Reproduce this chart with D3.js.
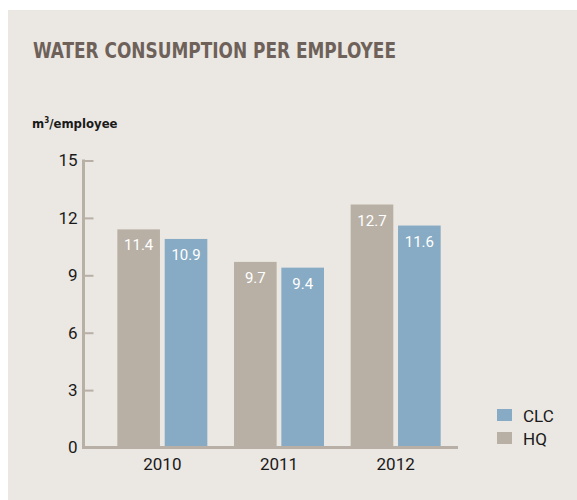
<!DOCTYPE html>
<html>
<head>
<meta charset="utf-8">
<script src="https://cdn.jsdelivr.net/npm/d3@7"></script>
<style>
  body { margin: 0; background: #fff; }
  svg text { font-family: Roboto, "Open Sans", sans-serif; }
</style>
</head>
<body>
<div id="chart"></div>
<script>
// chart data
const years = ["2010", "2011", "2012"];
const series = ["HQ", "CLC"];
const hqValues = [11.4, 9.7, 12.7];
const clcValues = [10.9, 9.4, 11.6];
const yTicks = [0, 3, 6, 9, 12, 15];
const legendOrder = ["CLC", "HQ"];

const width = 577;
const height = 500;

const color = d3.scaleOrdinal()
    .domain(series)
    .range(["#b8b0a5", "#87abc4"]);

const svg = d3.select("#chart")
    .append("svg")
    .attr("width", width)
    .attr("height", height);

// panel background
svg.append("rect")
    .attr("x", 8)
    .attr("y", 10)
    .attr("width", width - 8)
    .attr("height", height - 10)
    .attr("fill", "#ebe7e2");

// title
svg.append("text")
    .attr("x", 33)
    .attr("y", 58)
    .attr("fill", "#6e615a")
    .style("font-family", "'Liberation Sans Narrow', 'DejaVu Sans Condensed', sans-serif")
    .style("font-size", "21px")
    .style("font-weight", "bold")
    .attr("textLength", 363)
    .attr("lengthAdjust", "spacingAndGlyphs")
    .text("WATER CONSUMPTION PER EMPLOYEE");

// unit label
const unit = svg.append("text")
    .attr("x", 32)
    .attr("y", 128)
    .attr("fill", "#1a1a1a")
    .style("font-family", "'Liberation Sans Narrow', 'DejaVu Sans Condensed', sans-serif")
    .style("font-size", "13px")
    .style("font-weight", "bold");
unit.append("tspan").text("m");
unit.append("tspan").attr("dy", -5).style("font-size", "8px").text("3");
unit.append("tspan").attr("dy", 5).text("/employee");

// scales
const y = d3.scaleLinear()
    .domain([0, 15])
    .range([447.5, 160.5]);

const x0 = d3.scaleBand()
    .domain(years)
    .range([104, 454])
    .padding(0);

const groupWidth = 90;
const x1 = d3.scaleBand()
    .domain(series)
    .range([0, groupWidth])
    .paddingInner(0.1);

// y axis
const yAxis = svg.append("g")
    .attr("transform", "translate(83.5,0)")
    .call(d3.axisLeft(y).tickValues(yTicks).tickSize(-10).tickPadding(6));
yAxis.select(".domain").remove();
yAxis.selectAll(".tick line")
    .attr("stroke", "#b8b0a6")
    .attr("stroke-width", 2);
yAxis.selectAll(".tick text")
    .attr("fill", "#1a1a1a")
    .style("font-size", "17px");

svg.append("line")
    .attr("x1", 83.5).attr("x2", 83.5)
    .attr("y1", y(15) - 1).attr("y2", y(0) + 1.5)
    .attr("stroke", "#b8b0a6")
    .attr("stroke-width", 3);

// bars
const rows = years.map((yr, i) => ({ year: yr, HQ: hqValues[i], CLC: clcValues[i] }));

const groups = svg.selectAll(".group")
    .data(rows)
    .enter()
    .append("g")
    .attr("class", "group")
    .attr("transform", d => `translate(${x0(d.year) + (x0.bandwidth() - groupWidth) / 2},0)`);

const bars = groups.selectAll("g")
    .data(d => series.map(s => ({ key: s, value: d[s] })))
    .enter()
    .append("g");

bars.append("rect")
    .attr("x", d => x1(d.key))
    .attr("y", d => y(d.value))
    .attr("width", x1.bandwidth())
    .attr("height", d => y(0) - y(d.value))
    .attr("fill", d => color(d.key));

bars.append("text")
    .attr("x", d => x1(d.key) + x1.bandwidth() / 2)
    .attr("y", d => y(d.value) + 21)
    .attr("text-anchor", "middle")
    .attr("fill", "#fff")
    .style("font-size", "15px")
    .text(d => d.value);

// x axis
svg.append("line")
    .attr("x1", 82).attr("x2", 458)
    .attr("y1", y(0)).attr("y2", y(0))
    .attr("stroke", "#b8b0a6")
    .attr("stroke-width", 3);

const xAxis = svg.append("g")
    .attr("transform", `translate(0,${y(0)})`)
    .call(d3.axisBottom(x0).tickSize(0).tickPadding(10));
xAxis.select(".domain").remove();
xAxis.selectAll(".tick text")
    .attr("fill", "#1a1a1a")
    .style("font-size", "17px");

// legend
const legend = svg.selectAll(".legend")
    .data(legendOrder)
    .enter()
    .append("g")
    .attr("class", "legend")
    .attr("transform", (d, i) => `translate(497,${409 + i * 23})`);

legend.append("rect")
    .attr("width", 15)
    .attr("height", 12)
    .attr("fill", d => color(d));

legend.append("text")
    .attr("x", 26)
    .attr("y", 13)
    .attr("fill", "#1a1a1a")
    .style("font-size", "17px")
    .text(d => d);
</script>
</body>
</html>
